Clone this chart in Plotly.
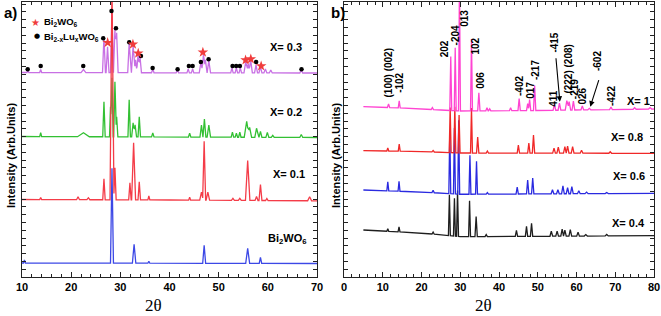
import numpy as np
import plotly.graph_objects as go

# ---------------- data ----------------
# Panel a) : 2theta 10..70 ; each pattern = baseline points + peaks (2theta, height, half-width)
A_RANGE = [10, 70]
A0_NAME = "Bi<sub>2</sub>WO<sub>6</sub>"
A0_BASE_X = [10, 70]
A0_BASE_Y = [14, 13.5]
A0_PEAKS = [(10.5, 3, .2), (28.3, 95, .3), (32.8, 19, .35), (35.8, 2, .2), (47.05, 18, .3),
            (55.9, 15, .4), (58.5, 6, .25)]

A1_NAME = "X= 0.1"
A1_BASE_X = [10, 40, 70]
A1_BASE_Y = [77.5, 77, 76.2]
A1_PEAKS = [(13.8, 2, .2), (21.4, 3, .3), (23.5, 2, .3), (26.67, 21, .25), (28.3, 215, .4),
            (28.9, 32, .25), (31.95, 17, .25), (32.7, 57, .4), (33.85, 18, .25), (35.8, 4, .2),
            (44.1, 3, .2), (46.5, 8, .35), (47.05, 59, .3), (47.8, 8, .35), (52.9, 2, .3),
            (54.3, 2, .3), (55.9, 40, .45), (57.7, 4, .3), (58.5, 16, .3), (59.8, 2, .25),
            (68.5, 4, .4)]

A2_NAME = "X= 0.2"
A2_BASE_X = [10, 40, 70]
A2_BASE_Y = [140.5, 140, 139.5]
A2_PEAKS = [(13.8, 4, .2), (22.5, 4, 1.2), (26.67, 35, .25), (28.0, 30, .2), (28.3, 59, .25),
            (28.9, 55, .25), (29.25, 20, .25), (31.8, 37, .25), (32.6, 14, .3), (33.0, 12, .3),
            (33.85, 20, .25), (36.6, 4, .25), (44.1, 4, .25), (46.5, 12, .3), (47.1, 18, .3),
            (48.0, 12, .35), (52.8, 5, .25), (53.6, 4, .25), (54.3, 5, .25), (55.7, 16, .5),
            (56.3, 10, .4), (57.7, 9, .35), (58.5, 6, .3), (59.9, 5, .3), (61.0, 2, .3),
            (66.8, 3, .3)]

A3_NAME = "X= 0.3"
A3_BASE_X = [10, 40, 70]
A3_BASE_Y = [204.5, 204.2, 204]
A3_PEAKS = [(11.2, 2, .2), (13.8, 3, .2), (22.5, 3, .5), (26.67, 36, .3), (27.4, 26, .3),
            (28.3, 60, .3), (28.9, 44, .3), (29.25, 40, .3), (31.8, 30, .3), (32.6, 27, .35),
            (33.1, 13, .3), (33.6, 18, .3), (34.0, 16, .3), (36.6, 4, .25), (41.6, 3, .25),
            (43.8, 4, .25), (44.7, 4, .25), (46.4, 11, .35), (46.9, 18, .3), (47.3, 13, .3),
            (48.0, 12, .35), (52.7, 5, .25), (53.6, 5, .25), (54.4, 5, .25), (55.5, 11, .35),
            (56.0, 9, .3), (56.5, 13, .35), (57.6, 8, .3), (58.5, 6, .3), (59.5, 4, .3),
            (60.6, 3, .3), (66.8, 3, .3)]

# phase markers of panel a)
DOT_X = [11.16, 13.8, 22.46, 26.52, 28.2, 29.11, 31.81, 34.19, 36.57, 41.65, 43.94, 44.7,
         46.38, 47.95, 52.83, 53.56, 54.31, 57.62, 66.85]
DOT_Y = [207.7, 211, 211, 238.7, 266, 248.7, 234.7, 221, 209, 207.7, 211, 211,
         215, 217.7, 211, 211, 211, 215, 207.7]
STAR_X = [27.42, 32.56, 33.64, 46.79, 55.47, 56.54, 58.64]
STAR_Y = [234.3, 232.7, 223.7, 224.7, 217, 218, 211]

# Panel b) : 2theta 5..80
B_RANGE = [5, 80]
B0_NAME = "X= 0.4"
B0_BASE_X = [5, 20, 30, 80]
B0_BASE_Y = [47, 44, 40.3, 41.3]
B0_PEAKS = [(11.3, 2.5, .25), (14.2, 5, .25), (23, 2, .3), (27.2, 41, .25), (28.5, 38, .25),
            (29.3, 46, .25), (32.4, 36, .25), (34.1, 20, .3), (36.7, 2, .3), (44.5, 6, .3),
            (47.1, 10, .3), (48.4, 13, .3), (53.5, 5, .35), (55.0, 5, .35), (56.3, 7, .35),
            (57.0, 6, .35), (58.4, 6.5, .35), (60.4, 4, .35), (62.4, 1.5, .4), (67.8, 1.5, .4)]

B1_NAME = "X= 0.6"
B1_BASE_X = [5, 20, 30, 80]
B1_BASE_Y = [87, 85, 82.7, 83.7]
B1_PEAKS = [(11.3, 9, .25), (14.2, 10, .25), (23, 2.5, .3), (27.3, 62, .25), (28.5, 66, .25),
            (29.6, 74, .25), (32.5, 39, .25), (34.2, 33, .25), (37.0, 1.5, .3), (44.7, 7, .3),
            (47.4, 14, .3), (48.7, 16, .3), (53.8, 4, .35), (55.2, 4, .35), (56.5, 8, .35),
            (57.7, 6, .35), (58.8, 7, .35), (60.6, 3, .35), (62.6, 1.5, .4), (67.8, 1, .4)]

B2_NAME = "X= 0.8"
B2_BASE_X = [5, 20, 30, 80]
B2_BASE_Y = [126.3, 125.5, 124, 123.7]
B2_PEAKS = [(11.3, 3, .25), (14.25, 7, .25), (23, 1.5, .3), (27.4, 45, .25), (28.6, 46, .25),
            (29.7, 38, .25), (32.9, 45, .25), (34.5, 16, .3), (37, 2, .3), (45.0, 8, .3),
            (47.7, 10, .3), (48.9, 18, .3), (54.2, 5, .35), (55.3, 6, .35), (57.0, 6.5, .35),
            (57.7, 7, .35), (59.0, 6.5, .35), (61.3, 3, .35), (68.7, 1.5, .35)]

B3_NAME = "X= 1"
B3_BASE_X = [5, 15, 25, 30, 50, 80]
B3_BASE_Y = [170.3, 169, 167, 166, 166.5, 168]
B3_PEAKS = [(11.5, 3.5, .3), (14.25, 7, .25), (22.8, 2, .3), (27.55, 54, .25), (28.7, 63, .25),
            (29.8, 130, .25), (32.9, 72, .25), (34.8, 18, .3), (36.9, 3, .3), (37.6, 2, .3),
            (43.0, 3, .3), (45.2, 12, .3), (47.4, 7, .3), (47.9, 11, .3), (49.2, 25, .3),
            (54.3, 6, .35), (55.6, 7, .35), (57.5, 9.5, .4), (58.1, 8.5, .4), (59.2, 9, .35),
            (61.5, 4, .35), (63.3, 1.5, .4), (68.9, 2.5, .35), (75, 1.5, .4), (79, 1.5, .4)]

# hkl labels of panel b) : (text, 2theta, intensity level of label centre)
HKL_TEXT = ["(100) (002)", "-102", "202", "-204", "013", "102", "006", "-402", "017", "-217",
            "411", "-415", "(222) (208)", "-219", "026", "-602", "-422"]
HKL_X = [11.48, 14.33, 25.9, 28.76, 31.1, 33.68, 35.05, 45.16, 47.93, 49.3,
         54.07, 54.22, 57.7, 59.4, 61.6, 65.3, 68.9]
HKL_Y = [204, 193.7, 228, 242, 258.7, 231, 197, 191, 187, 207,
         178.7, 234.5, 208, 188, 181.2, 216, 181]

# ---------------- layout helpers ----------------
W, H = 661, 316
ML, MR, MT, MB = 22, 7, 2, 39
PW, PH = W - ML - MR, H - MT - MB


def px(x):
    return (x - ML) / PW


def py(y):
    return (H - MB - y) / PH


def build(peaks, base_x, base_y, rng):
    nodes = set(base_x) | set(rng)
    for p, h, w in peaks:
        nodes |= {p - w, p, p + w}
    xs = np.array(sorted(n for n in nodes if rng[0] <= n <= rng[1]))
    ys = np.interp(xs, base_x, base_y)
    for p, h, w in peaks:
        ys = ys + h * np.clip(1 - np.abs(xs - p) / w, 0, None)
    return xs, ys


fig = go.Figure()

A_SERIES = [
    (A3_NAME, A3_PEAKS, A3_BASE_X, A3_BASE_Y, "#c870e4"),
    (A2_NAME, A2_PEAKS, A2_BASE_X, A2_BASE_Y, "#33c033"),
    (A1_NAME, A1_PEAKS, A1_BASE_X, A1_BASE_Y, "#f43c48"),
    (A0_NAME, A0_PEAKS, A0_BASE_X, A0_BASE_Y, "#3c48e6"),
]
for name, pk, bx, by, col in A_SERIES:
    xs, ys = build(pk, bx, by, A_RANGE)
    fig.add_trace(go.Scatter(x=xs, y=ys, mode="lines", line=dict(color=col, width=1.3),
                             xaxis="x", yaxis="y", showlegend=False, name=name))

fig.add_trace(go.Scatter(x=DOT_X, y=DOT_Y, mode="markers", xaxis="x", yaxis="y",
                         marker=dict(symbol="circle", size=4.5, color="black"), showlegend=False))
fig.add_trace(go.Scatter(x=STAR_X, y=STAR_Y, mode="markers", xaxis="x", yaxis="y",
                         marker=dict(symbol="star", size=8, color="#f03c3c"), showlegend=False))

B_SERIES = [
    (B0_NAME, B0_PEAKS, B0_BASE_X, B0_BASE_Y, "#1e1e1e"),
    (B1_NAME, B1_PEAKS, B1_BASE_X, B1_BASE_Y, "#2a2ae0"),
    (B2_NAME, B2_PEAKS, B2_BASE_X, B2_BASE_Y, "#f02828"),
    (B3_NAME, B3_PEAKS, B3_BASE_X, B3_BASE_Y, "#ff44d2"),
]
for name, pk, bx, by, col in B_SERIES:
    xs, ys = build(pk, bx, by, B_RANGE)
    fig.add_trace(go.Scatter(x=xs, y=ys, mode="lines", line=dict(color=col, width=1.3),
                             xaxis="x2", yaxis="y2", showlegend=False, name=name))

BOLD = dict(family="Liberation Sans, Arial, sans-serif", color="black", weight="bold")
ann = []
for t, x, y in zip(HKL_TEXT, HKL_X, HKL_Y):
    ann.append(dict(x=x, y=y, xref="x2", yref="y2", text=t, textangle=-90, showarrow=False,
                    font=dict(size=10, **BOLD), xanchor="center", yanchor="middle"))

# arrows for -415 and -602
ann.append(dict(x=55.7, y=175.3, xref="x2", yref="y2", ax=-4, ay=-45, text="", showarrow=True,
                arrowhead=2, arrowsize=1, arrowwidth=1.1, arrowcolor="black"))
ann.append(dict(x=63.55, y=170.3, xref="x2", yref="y2", ax=9, ay=-28, text="", showarrow=True,
                arrowhead=2, arrowsize=1, arrowwidth=1.1, arrowcolor="black"))

# series labels
LABELS = [("X= 0.3", 286, 47), ("X= 0.2", 286, 112), ("X= 0.1", 289, 174),
          ("Bi<sub>2</sub>WO<sub>6</sub>", 287, 239),
          ("X= 1", 638, 101), ("X= 0.8", 626.5, 137), ("X= 0.6", 628.5, 176),
          ("X= 0.4", 628.5, 223)]
for t, x, y in LABELS:
    ann.append(dict(x=px(x), y=py(y), xref="paper", yref="paper", text=t, showarrow=False,
                    font=dict(size=11, **BOLD), xanchor="center", yanchor="middle"))

# legend of panel a
ann.append(dict(x=px(35), y=py(22), xref="paper", yref="paper", text="★", showarrow=False,
                font=dict(size=10, color="#f03c3c", family="DejaVu Sans"),
                xanchor="center", yanchor="middle"))
ann.append(dict(x=px(36.7), y=py(36), xref="paper", yref="paper", text="●", showarrow=False,
                font=dict(size=7, color="black", family="DejaVu Sans"),
                xanchor="center", yanchor="middle"))
ann.append(dict(x=px(42), y=py(22), xref="paper", yref="paper",
                text="Bi<sub>2</sub>WO<sub>6</sub>", showarrow=False,
                font=dict(size=9.5, **BOLD), xanchor="left", yanchor="middle"))
ann.append(dict(x=px(42), y=py(37), xref="paper", yref="paper",
                text="Bi<sub>2-x</sub>Lu<sub>x</sub>WO<sub>6</sub>", showarrow=False,
                font=dict(size=9.5, **BOLD), xanchor="left", yanchor="middle"))

# panel letters
ann.append(dict(x=px(2), y=py(12), xref="paper", yref="paper", text="a)", showarrow=False,
                font=dict(size=15, **BOLD), xanchor="left", yanchor="middle"))
ann.append(dict(x=px(329), y=py(12), xref="paper", yref="paper", text="b)", showarrow=False,
                font=dict(size=15, **BOLD), xanchor="left", yanchor="middle"))

# axis titles
for xc in (11, 336):
    ann.append(dict(x=px(xc), y=py(156), xref="paper", yref="paper",
                    text="Intensity (Arb.Units)", textangle=-90, showarrow=False,
                    font=dict(size=11, **BOLD), xanchor="center", yanchor="middle"))
for xc in (153, 483):
    ann.append(dict(x=px(xc), y=py(305), xref="paper", yref="paper", text="2θ",
                    showarrow=False,
                    font=dict(size=17, family="Liberation Serif, Times New Roman, serif",
                              color="black"),
                    xanchor="center", yanchor="middle"))

xcommon = dict(showline=True, linecolor="#222", linewidth=1, mirror="ticks", ticks="inside",
               ticklen=5, tickcolor="#222", dtick=10, showgrid=False, zeroline=False,
               tickfont=dict(size=11, **BOLD),
               minor=dict(ticks="inside", ticklen=3, dtick=2, tickcolor="#222", showgrid=False))
ycommon = dict(showline=True, linecolor="#222", linewidth=1, mirror="ticks", ticks="inside",
               ticklen=4, tickcolor="#222", dtick=7.8, tick0=0, showticklabels=False,
               showgrid=False, zeroline=False, range=[0, 275])

fig.update_layout(
    width=W, height=H, margin=dict(l=ML, r=MR, t=MT, b=MB),
    paper_bgcolor="white", plot_bgcolor="white",
    xaxis=dict(domain=[0, px(317)], range=[10, 70], anchor="y", **xcommon),
    yaxis=dict(domain=[0, 1], anchor="x", **ycommon),
    xaxis2=dict(domain=[px(344), 1], range=[0, 80], anchor="y2", **xcommon),
    yaxis2=dict(domain=[0, 1], anchor="x2", **ycommon),
    annotations=ann,
)

fig.write_html("out.html", config={"displayModeBar": False},
               post_script="document.body.style.margin='0';document.body.style.overflow='hidden';")
